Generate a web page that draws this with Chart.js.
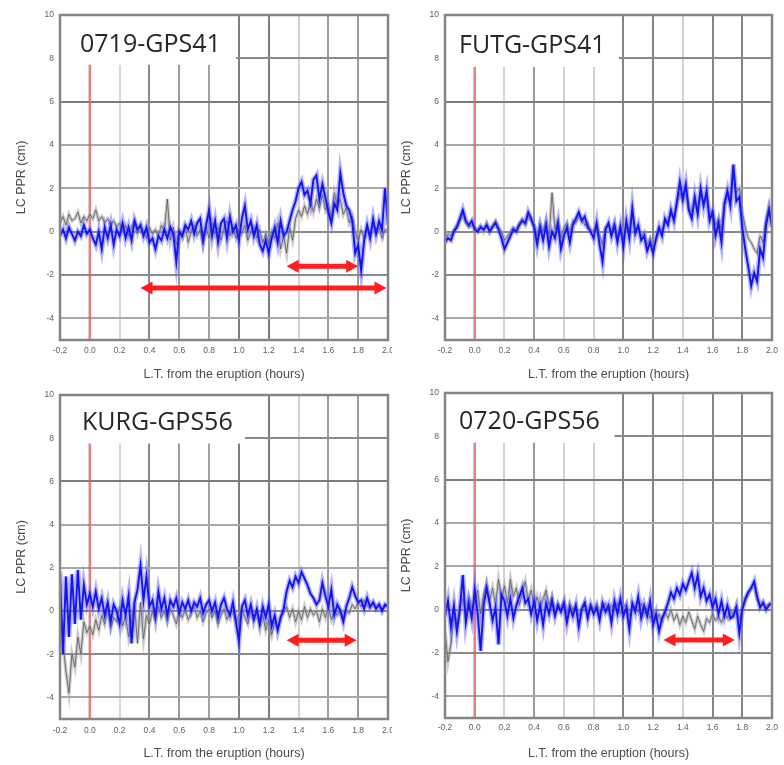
<!DOCTYPE html>
<html>
<head>
<meta charset="utf-8">
<script src="https://cdn.jsdelivr.net/npm/chart.js@4.4.1/dist/chart.umd.min.js"></script>
<style>
  html, body { margin: 0; padding: 0; background: #fff; }
  #wrap { position: relative; width: 784px; height: 765px; overflow: hidden; }
  .panel { position: absolute; }
</style>
</head>
<body>
<div id="wrap">
  <div class="panel" style="left:0;top:0;width:392px;height:383px"><canvas id="p1"></canvas></div>
  <div class="panel" style="left:392px;top:0;width:392px;height:383px"><canvas id="p2"></canvas></div>
  <div class="panel" style="left:0;top:383px;width:392px;height:382px"><canvas id="p3"></canvas></div>
  <div class="panel" style="left:392px;top:383px;width:392px;height:382px"><canvas id="p4"></canvas></div>
</div>
<script>
// time from the eruption (hours), shared by every trace
const T = [
  -0.20, -0.18, -0.16, -0.14, -0.12, -0.10, -0.08, -0.06, -0.04, -0.02,
   0.00,  0.02,  0.04,  0.06,  0.08,  0.10,  0.12,  0.14,  0.16,  0.18,
   0.20,  0.22,  0.24,  0.26,  0.28,  0.30,  0.32,  0.34,  0.36,  0.38,
   0.40,  0.42,  0.44,  0.46,  0.48,  0.50,  0.52,  0.54,  0.56,  0.58,
   0.60,  0.62,  0.64,  0.66,  0.68,  0.70,  0.72,  0.74,  0.76,  0.78,
   0.80,  0.82,  0.84,  0.86,  0.88,  0.90,  0.92,  0.94,  0.96,  0.98,
   1.00,  1.02,  1.04,  1.06,  1.08,  1.10,  1.12,  1.14,  1.16,  1.18,
   1.20,  1.22,  1.24,  1.26,  1.28,  1.30,  1.32,  1.34,  1.36,  1.38,
   1.40,  1.42,  1.44,  1.46,  1.48,  1.50,  1.52,  1.54,  1.56,  1.58,
   1.60,  1.62,  1.64,  1.66,  1.68,  1.70,  1.72,  1.74,  1.76,  1.78,
   1.80,  1.82,  1.84,  1.86,  1.88,  1.90,  1.92,  1.94,  1.96,  1.98,
   2.00
];

const X_TICKS = [-0.2, 0, 0.2, 0.4, 0.6, 0.8, 1.0, 1.2, 1.4, 1.6, 1.8, 2.0];
const Y_TICKS = [-4, -2, 0, 2, 4, 6, 8, 10];
const ONSET = 0.0;
const X_TITLE = 'L.T. from the eruption (hours)';
const Y_TITLE = 'LC PPR (cm)';

// 0719-GPS41
const P1_BLUE = [
  -0.2, 0.1, -0.3, 0.2, -0.1, -0.4, 0.0, -0.2, 0.3, -0.1,
  0.1, -0.3, -0.6, 0.0, -0.8, 0.2, -0.3, 0.3, -0.6, 0.1,
  -0.2, 0.4, -0.3, 0.2, -0.4, 0.5, 0.1, 0.3, -0.2, 0.2,
  -0.5, -0.3, -0.8, -0.2, -0.4, 0.1, -0.3, 0.2, -0.1, -1.4,
  0.0, -0.2, 0.3, 0.1, 0.5, -0.1, 0.4, 0.6, -0.4, 0.3,
  1.0, -0.2, 0.5, -0.5, 0.4, 0.6, -0.3, 0.7, 0.0, 0.3,
  -0.4, 0.6, 1.2, 0.1, 0.5, -0.2, 0.3, -0.6, -0.9, -0.4,
  -1.0, -0.3, 0.2, -0.5, 0.5, -0.2, 0.0, 0.5, 1.0, 1.4,
  2.0, 2.3, 1.7, 1.9, 1.3, 2.4, 2.6, 1.5, 2.2, 1.6,
  0.9, 0.4, 1.3, 1.0, 2.7, 1.8, 1.2, 1.0, 0.5, -1.0,
  -0.6, -1.8, -0.4, 0.3, -0.3, 0.6, -0.1, 0.5, 0.1, 2.0,
  0.3
];
const P1_GRAY = [
  0.4, 0.7, 0.3, 0.8, 0.5, 0.6, 0.9, 0.4, 0.7, 0.5,
  0.8, 0.6, 1.0, 0.5, 0.7, 0.4, 0.6, 0.3, 0.5, 0.2,
  0.4, 0.0, 0.3, -0.2, 0.2, 0.5, -0.1, 0.3, 0.0, -0.3,
  0.2, -0.1, 0.1, -0.2, 0.3, 0.0, 1.5, -0.4, 0.2, -0.6,
  0.1, -0.3, 0.2, -0.5, 0.0, 0.3, -0.2, 0.1, -0.6, 0.2,
  -0.3, 0.4, -0.1, 0.2, -0.4, 0.1, 0.5, -0.2, 0.2, -0.3,
  0.1, -0.1, 0.3, -0.4, 0.0, 0.2, -0.3, 0.1, -0.5, -0.1,
  -0.6, 0.0, -0.3, 0.4, -0.8, -0.2, -1.0, 0.2, -0.4, 0.6,
  1.0, 0.7, 1.2, 0.8, 1.4, 0.9, 1.5, 1.1, 1.7, 1.0,
  1.3, 0.6, 1.8, 1.2, 1.5, 0.8, 1.1, 0.4, 0.7, 0.0,
  -0.4, 0.1, -0.3, 0.2, -0.2, 0.3, -0.1, 0.2, -0.3, 0.1,
  0.0
];
const P1_ARROWS = [[1.32, 1.80, -1.6], [0.34, 1.99, -2.6]];

// FUTG-GPS41
const P2_BLUE = [
  -0.5, -0.3, -0.4, 0.0, 0.2, 0.6, 1.0, 0.5, 0.3, 0.5,
  0.1, 0.0, 0.2, 0.1, 0.3, 0.0, 0.2, 0.4, 0.1, -0.3,
  -0.8, -0.5, -0.2, 0.1, 0.0, 0.3, 0.5, 0.4, 0.9, 0.6,
  0.2, -0.6, 0.2, -0.4, 0.3, -0.7, 0.0, -0.3, 0.4, -0.8,
  -0.2, 0.2, -0.5, 0.3, 0.6, 0.9, 0.5, 0.7, 0.2, 0.0,
  -0.3, 0.4, -0.6, -1.4, 0.1, 0.4, -0.2, 0.3, -0.5, 0.2,
  -0.7, 0.5, -0.3, 1.1, -0.1, 0.3, -0.4, -0.2, -0.9, -0.5,
  -1.0, -0.3, 0.2, -0.2, 0.6, 0.3, 1.0, 0.5, 1.4, 2.3,
  1.5, 2.2, 1.0, 0.6, 1.6, 0.8, 2.0, 1.2, 1.9, 0.5,
  0.9, -0.2, 0.4, -0.5, 1.3, 1.9, 1.2, 3.1, 1.4, 1.6,
  0.2, -0.8, -1.6, -2.5, -1.9, -2.3, -0.8, -1.2, 0.3, 1.0,
  0.2
];
const P2_GRAY = [
  -0.3, -0.1, -0.2, 0.1, 0.3, 0.5, 0.8, 0.4, 0.2, 0.3,
  0.2, 0.1, 0.3, 0.0, 0.4, 0.1, 0.3, 0.5, 0.2, 0.0,
  -0.4, -0.2, 0.0, 0.2, 0.1, 0.4, 0.6, 0.3, 0.7, 0.5,
  0.3, -0.2, 0.4, 0.0, 0.5, -0.3, 1.8, 0.1, 0.5, -0.3,
  0.2, 0.4, -0.1, 0.5, 0.4, 0.7, 0.6, 0.3, 0.4, 0.1,
  0.0, 0.3, -0.2, -0.6, 0.2, 0.3, 0.0, 0.4, -0.2, 0.3,
  -0.3, 0.4, 0.0, 0.7, 0.1, 0.2, -0.2, 0.0, -0.6, -0.3,
  -0.7, -0.4, 0.0, 0.1, 0.4, 0.5, 0.8, 0.7, 1.2, 1.8,
  1.4, 1.9, 1.1, 0.9, 1.5, 1.0, 1.7, 1.3, 1.5, 0.8,
  1.0, 0.3, 0.6, 0.1, 1.2, 1.6, 1.4, 2.6, 1.8, 2.0,
  0.9, 0.2, -0.3, -0.5, -0.8, -1.0, -0.2, -0.5, 0.6, 1.2,
  0.5
];
const P2_ARROWS = [];

// KURG-GPS56
const P3_BLUE = [
  1.8, -2.0, 1.6, -1.2, 1.7, -0.6, 1.9, -0.4, 1.2, 0.3,
  0.8, 0.2, 0.9, 0.1, 0.6, -0.2, 0.4, -0.5, 0.3, 0.0,
  -0.6, 0.5, -0.2, 0.7, -1.5, 0.4, 1.0, 2.1, 0.5, 1.6,
  0.2, 0.5, -0.3, 0.9, 0.1, 0.6, -0.2, 0.5, 0.2, 0.6,
  -0.1, 0.4, 0.1, 0.5, 0.0, 0.4, 0.2, 0.6, -0.1, 0.3,
  0.5, 0.0, 0.4, -0.3, 0.3, 0.6, 0.1, -0.2, 0.4, -0.5,
  -1.4, 0.2, 0.5, -0.2, 0.3, -0.4, 0.1, -0.6, 0.2, -0.3,
  0.3, -0.7, -0.2, -0.9, -0.3, 0.1, 0.9, 1.4, 1.1, 1.6,
  1.3, 1.8, 1.5, 1.2, 0.8, 0.6, 0.3, 0.5, 1.3, 0.7,
  0.2, 1.0, -0.2, 0.3, 0.0, -0.5, 0.2, 0.6, 1.1, 0.7,
  0.4, 0.5, 0.1, 0.6, 0.2, 0.4, 0.1, 0.3, 0.0, 0.3,
  0.2
];
const P3_GRAY = [
  0.5, -1.5, -2.8, -3.8, -2.0, -2.6, -1.2, -2.0, -0.5, -1.0,
  -0.7, -1.1, -0.4, -0.9, -0.2, -0.6, 0.1, -0.8, -0.3, -0.5,
  0.2, -0.7, -0.2, -1.2, -0.4, 0.3, -1.5, 0.4, -1.3, -0.2,
  -0.6, 0.0, -0.4, 0.2, -0.3, 0.0, -0.5, 0.1, -0.2, -0.6,
  0.0, -0.3, 0.1, -0.4, -0.1, 0.2, -0.3, 0.0, -0.5, -0.1,
  0.1, -0.3, 0.0, -0.6, -0.2, 0.1, -0.4, -0.1, 0.0, -0.5,
  -0.2, 0.1, -0.3, -0.6, 0.0, -0.4, -0.1, -0.7, -0.2, -0.9,
  -0.4, -1.1, -0.5, -0.8, -0.3, -0.1, 0.2, -0.3, 0.1, -0.5,
  0.0, -0.4, 0.2, -0.3, 0.1, -0.2, 0.0, -0.5, 0.1, -0.3,
  0.2, -0.4, 0.0, -0.2, 0.1, -0.3, 0.0, -0.1, 0.3, 0.1,
  0.4, 0.2, 0.5, 0.3, 0.1, 0.4, 0.2, 0.3, 0.1, 0.2,
  0.3
];
const P3_ARROWS = [[1.32, 1.79, -1.35]];

// 0720-GPS56
const P4_BLUE = [
  -0.3, 0.4, -0.8, 0.2, -1.0, 0.0, 1.6, -0.6, 0.3, -0.4,
  0.9, -0.2, -1.9, 0.2, 1.0, 0.3, -0.5, 0.1, -1.6, 0.7,
  0.4, -0.3, 0.5, -0.4, 0.2, 0.6, 1.0, 0.3, 0.5, -0.2,
  0.4, -0.5, 0.2, -0.7, 0.3, -0.2, 0.4, -0.3, 0.2, -0.1,
  0.3, -0.6, 0.1, -0.3, 0.2, -0.8, 0.0, 0.3, -0.4, 0.2,
  -0.2, 0.1, -0.5, 0.3, -0.1, 0.2, -0.6, 0.4, -0.2, 0.5,
  -0.3, 0.1, -0.9, 0.3, -0.1, 0.6, -0.4, 0.2, -0.3, 0.4,
  -0.7, -0.2, -1.0, -0.4, -0.1, 0.3, 0.8, 0.5, 1.0, 0.7,
  1.2, 0.9, 1.3, 1.7, 1.0, 1.6, 0.6, 1.0, 0.4, 0.7,
  0.1, 0.5, -0.2, 0.4, -0.3, 0.2, -0.4, -0.3, 0.1, -1.1,
  0.0, 0.5, 0.8, 1.0, 1.3, 0.6, 0.1, 0.3, 0.0, 0.2,
  0.3
];
const P4_GRAY = [
  -1.0, -2.4, -1.6, -0.3, -0.8, 0.2, 0.5, -0.3, 0.6, 0.1,
  0.3, 0.9, -0.2, 0.7, 1.2, 0.4, 1.0, 0.2, 1.4, 0.5,
  1.1, 0.3, 1.4, 0.6, 1.0, 0.2, 0.8, 1.3, 0.4, 0.9,
  0.1, 0.6, 0.0, 0.5, 0.9, 0.2, 0.6, -0.1, 0.3, 0.0,
  0.4, -0.2, 0.3, 0.0, 0.2, -0.3, 0.1, 0.4, -0.1, 0.2,
  0.0, 0.3, -0.2, 0.1, 0.3, -0.1, 0.2, 0.0, 0.3, -0.2,
  0.1, 0.3, -0.3, 0.0, 0.2, -0.1, 0.3, -0.2, 0.1, -0.4,
  0.0, -0.5, -0.2, -0.6, -0.1, -0.4, 0.0, -0.5, -0.2, -0.7,
  -0.3, -0.6, -0.1, -0.5, -0.9, -0.3, -0.7, -1.0, -0.4, -0.6,
  -0.2, -0.5, -0.3, -0.6, -0.2, -0.4, 0.0, -0.3, 0.2, -0.5,
  0.1, 0.4, 0.7, 1.0, 1.2, 0.5, 0.2, 0.4, 0.1, 0.3,
  0.2
];
const P4_ARROWS = [[1.27, 1.75, -1.4]];

const GRID_A = ['transparent', 'transparent', '#d8d8d8', '#8a8a8a', '#9c9c9c', '#a2a2a2',
  '#7e7e7e', '#7e7e7e', '#d2d2d2', '#9c9c9c', '#9c9c9c', 'transparent'];
const GRID_B = ['transparent', 'transparent', '#d2d2d2', '#9a9a9a', '#d2d2d2', '#d2d2d2',
  '#858585', '#858585', '#d2d2d2', '#858585', '#858585', 'transparent'];

const panels = [
  { id: 'p1', title: '0719-GPS41', blue: P1_BLUE, gray: P1_GRAY, arrows: P1_ARROWS, vgrid: GRID_A,
    yAxisW: 60, padR: 4, padT: 15, xAxisH: 43, yTitlePad: 14.5, xTitlePad: 0.5, xTickPad: 6,
    textDx: 20, textBase: 37, boxRight: 0.98, boxBottom: 7.7 },
  { id: 'p2', title: 'FUTG-GPS41', blue: P2_BLUE, gray: P2_GRAY, arrows: P2_ARROWS, vgrid: GRID_B,
    yAxisW: 53, padR: 12, padT: 15, xAxisH: 43, yTitlePad: 7.5, xTitlePad: 0.5, xTickPad: 6,
    textDx: 14, textBase: 38, boxRight: 0.97, boxBottom: 7.6 },
  { id: 'p3', title: 'KURG-GPS56', blue: P3_BLUE, gray: P3_GRAY, arrows: P3_ARROWS, vgrid: GRID_A,
    yAxisW: 60, padR: 4, padT: 12, xAxisH: 46, yTitlePad: 14.5, xTitlePad: 3.5, xTickPad: 7,
    textDx: 22, textBase: 35, boxRight: 1.04, boxBottom: 7.75 },
  { id: 'p4', title: '0720-GPS56', blue: P4_BLUE, gray: P4_GRAY, arrows: P4_ARROWS, vgrid: GRID_B,
    yAxisW: 53, padR: 12, padT: 10, xAxisH: 47, yTitlePad: 7.5, xTitlePad: 3.5, xTickPad: 5,
    textDx: 14, textBase: 36, boxRight: 0.94, boxBottom: 7.7 },
];

Chart.defaults.font.family = '"Liberation Sans", "DejaVu Sans", sans-serif';

const pts = (vals) => T.map((t, i) => ({ x: t, y: vals[i] }));
const fmt = (v) => (Math.abs(v) < 1e-9 ? 0 : v).toFixed(1);

function yGridColor(v) {
    if (v === 10) return 'transparent';
    if (v === 4 || v === 2 || v === -4) return '#a8a8a8';
    if (v === 6) return '#7c7c7c';
    return '#8a8a8a';
}

function drawArrow(ctx, xa, xb, yy) {
    const head = 12, half = 6.5;
    ctx.beginPath();
    ctx.moveTo(xa + head - 2, yy);
    ctx.lineTo(xb - head + 2, yy);
    ctx.stroke();
    ctx.beginPath();
    ctx.moveTo(xa, yy);
    ctx.lineTo(xa + head, yy - half);
    ctx.lineTo(xa + head, yy + half);
    ctx.closePath();
    ctx.fill();
    ctx.beginPath();
    ctx.moveTo(xb, yy);
    ctx.lineTo(xb - head, yy - half);
    ctx.lineTo(xb - head, yy + half);
    ctx.closePath();
    ctx.fill();
}

function makeDecor(p) {
    return {
        id: 'decor_' + p.id,
        beforeDatasetsDraw(chart) {
            const { ctx, chartArea: a, scales: { x, y } } = chart;
            const bx = x.getPixelForValue(p.boxRight);
            const by = y.getPixelForValue(p.boxBottom);
            ctx.save();
            // blank corner behind the station name
            ctx.fillStyle = '#fff';
            ctx.fillRect(a.left + 1, a.top + 1, bx - a.left - 1, by - a.top - 1);
            // eruption onset
            const x0 = x.getPixelForValue(ONSET);
            ctx.strokeStyle = 'rgba(222,96,96,0.8)';
            ctx.lineWidth = 2.5;
            ctx.beginPath();
            ctx.moveTo(x0, by);
            ctx.lineTo(x0, a.bottom);
            ctx.stroke();
            ctx.fillStyle = '#262626';
            ctx.font = '25px "Open Sans", sans-serif';
            ctx.textBaseline = 'alphabetic';
            ctx.fillText(p.title, a.left + p.textDx, a.top + p.textBase);
            ctx.restore();
        },
        afterDatasetsDraw(chart) {
            const { ctx, chartArea: a, scales: { x, y } } = chart;
            ctx.save();
            ctx.strokeStyle = '#ff1e1e';
            ctx.fillStyle = '#ff1e1e';
            ctx.lineWidth = 5;
            p.arrows.forEach(([x0, x1, yv]) => {
                drawArrow(ctx, x.getPixelForValue(x0), x.getPixelForValue(x1), y.getPixelForValue(yv));
            });
            ctx.strokeStyle = '#858585';
            ctx.lineWidth = 2.5;
            ctx.strokeRect(a.left, a.top, a.right - a.left, a.bottom - a.top);
            ctx.restore();
        },
    };
}

panels.forEach((p) => {
    new Chart(document.getElementById(p.id), {
        type: 'line',
        data: {
            datasets: [
                { data: pts(p.blue), borderColor: 'rgb(20,20,240)', borderWidth: 1.9, order: 0 },
                { data: pts(p.blue), borderColor: 'rgba(90,90,255,0.45)', borderWidth: 5, order: 1 },
                { data: pts(p.gray), borderColor: 'rgba(80,80,80,0.75)', borderWidth: 1, order: 2 },
                { data: pts(p.gray), borderColor: 'rgba(170,170,170,0.6)', borderWidth: 3.5, order: 3 },
            ],
        },
        options: {
            responsive: true,
            maintainAspectRatio: false,
            animation: false,
            layout: { padding: { left: 0, right: p.padR, top: p.padT, bottom: 0 } },
            elements: { point: { radius: 0 }, line: { tension: 0 } },
            plugins: { legend: { display: false }, tooltip: { enabled: false } },
            scales: {
                x: {
                    type: 'linear',
                    min: -0.2,
                    max: 2.0,
                    afterBuildTicks: (s) => { s.ticks = X_TICKS.map((v) => ({ value: v })); },
                    afterFit: (s) => { s.height = p.xAxisH; s.paddingLeft = 0; s.paddingRight = 0; },
                    ticks: {
                        padding: p.xTickPad, color: '#606060', font: { size: 8.5 },
                        maxRotation: 0, autoSkip: false, callback: (v) => fmt(v),
                    },
                    grid: { drawTicks: false, lineWidth: 2, color: (c) => p.vgrid[c.index] },
                    border: { display: false },
                    title: {
                        display: true, text: X_TITLE, color: '#4a4a4a', font: { size: 12.5 },
                        padding: { top: 0, bottom: p.xTitlePad },
                    },
                },
                y: {
                    min: -5,
                    max: 10,
                    afterBuildTicks: (s) => { s.ticks = Y_TICKS.map((v) => ({ value: v })); },
                    afterFit: (s) => { s.width = p.yAxisW; s.paddingTop = 0; s.paddingBottom = 0; },
                    ticks: { padding: 6, color: '#606060', font: { size: 8.5 } },
                    grid: { drawTicks: false, lineWidth: 2, color: (c) => yGridColor(c.tick.value) },
                    border: { display: false },
                    title: {
                        display: true, text: Y_TITLE, color: '#4a4a4a', font: { size: 12.5 },
                        padding: { top: p.yTitlePad, bottom: 0 },
                    },
                },
            },
        },
        plugins: [makeDecor(p)],
    });
});
</script>
</body>
</html>
